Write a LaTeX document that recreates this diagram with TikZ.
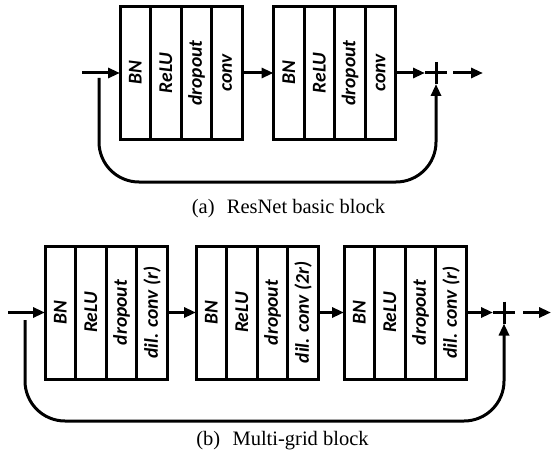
\documentclass[tikz,border=0pt]{standalone}
\usepackage{fontspec}
\setmainfont{Liberation Serif}
\newfontfamily\cellfont{Carlito}
\usetikzlibrary{arrows.meta, positioning, calc}

\tikzset{
  cell/.style={draw, line width=3pt, minimum width=30.6pt, minimum height=133pt,
    inner sep=0pt, outer sep=0pt,
    font={\cellfont\bfseries\itshape\fontsize{19.5pt}{19.5pt}\selectfont}},
  flow/.style={line width=3pt, -{Triangle[length=12pt,width=10pt]}},
  skip/.style={flow, rounded corners=40pt},
  plusnode/.style={minimum size=22pt, inner sep=0pt, outer sep=0pt},
  caption/.style={anchor=base, font={\fontsize{20.5pt}{24pt}\selectfont}}
}

\begin{document}
\begin{tikzpicture}[x=1pt, y=-1pt]
  \useasboundingbox (0,0) rectangle (552,460);

  % (a) ResNet basic block
  \foreach \blk/\x in {a1/120, a2/273.5} {
    \node[cell, anchor=west] (\blk-1) at (\x,73) {\rotatebox{90}{BN}};
    \node[cell, right=0pt of \blk-1] (\blk-2) {\rotatebox{90}{ReLU}};
    \node[cell, right=0pt of \blk-2] (\blk-3) {\rotatebox{90}{dropout}};
    \node[cell, right=0pt of \blk-3] (\blk-4) {\rotatebox{90}{conv}};
  }
  \node[plusnode] (aplus) at (436,73) {};
  \draw[line width=3pt] (aplus.west) -- (aplus.east) (aplus.north) -- (aplus.south);
  \coordinate (ain) at (82,73);
  \coordinate (aout0) at (453,73);
  \coordinate (aout) at (483,73);
  \coordinate (askip) at (99,78);
  \coordinate (abot) at (270,182);
  \draw[flow] (ain) -- (a1-1.west);
  \draw[flow] (a1-4.east) -- (a2-1.west);
  \draw[flow] (a2-4.east) -- (aplus.west);
  \draw[flow] (aout0) -- (aout);
  \draw[skip] (askip) |- (abot) -| (aplus.south);
  \node[caption] (acap) at (288.5,213) {(a)\hspace{0.6em}ResNet basic block};

  % (b) Multi-grid block
  \foreach \blk/\x/\rate in {b1/45/r, b2/196/2r, b3/344/r} {
    \node[cell, anchor=west] (\blk-1) at (\x,312.5) {\rotatebox{90}{BN}};
    \node[cell, right=0pt of \blk-1] (\blk-2) {\rotatebox{90}{ReLU}};
    \node[cell, right=0pt of \blk-2] (\blk-3) {\rotatebox{90}{dropout}};
    \node[cell, right=0pt of \blk-3] (\blk-4) {\rotatebox{90}{dil. conv (\rate)}};
  }
  \node[plusnode] (bplus) at (504,312.5) {};
  \draw[line width=3pt] (bplus.west) -- (bplus.east) (bplus.north) -- (bplus.south);
  \coordinate (bin) at (8,312.5);
  \coordinate (bout0) at (523,312.5);
  \coordinate (bout) at (551,312.5);
  \coordinate (bskip) at (25,320);
  \coordinate (bbot) at (270,421);
  \draw[flow] (bin) -- (b1-1.west);
  \draw[flow] (b1-4.east) -- (b2-1.west);
  \draw[flow] (b2-4.east) -- (b3-1.west);
  \draw[flow] (b3-4.east) -- (bplus.west);
  \draw[flow] (bout0) -- (bout);
  \draw[skip] (bskip) |- (bbot) -| (bplus.south);
  \node[caption] (bcap) at (282.5,445) {(b)\hspace{0.6em}Multi-grid block};
\end{tikzpicture}
\end{document}
